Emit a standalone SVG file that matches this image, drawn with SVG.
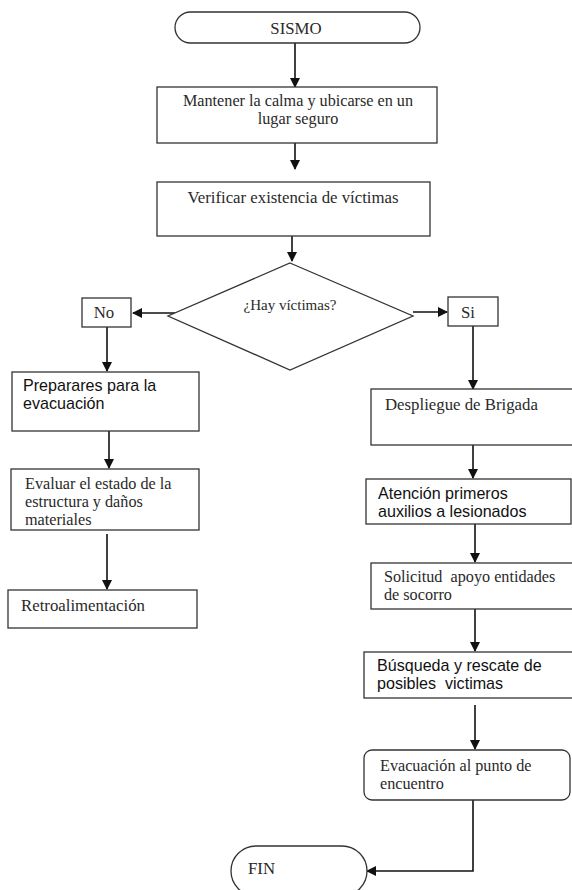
<svg xmlns="http://www.w3.org/2000/svg" width="572" height="890" viewBox="0 0 572 890">
<defs>
<marker id="ah" markerWidth="10" markerHeight="10" refX="9" refY="5" orient="auto" markerUnits="userSpaceOnUse">
<path d="M0,0 L10,5 L0,10 Z" fill="#111"/>
</marker>
<style>
.box{fill:#fff;stroke:#333;stroke-width:1.3}
.ser{font-family:"Liberation Serif","Times New Roman",serif;font-size:16.8px;fill:#2a2a2a}
.ser2{font-family:"Liberation Serif","Times New Roman",serif;font-size:16.2px;fill:#2a2a2a}
.san{font-family:"Liberation Sans",Arial,sans-serif;font-size:16.1px;fill:#111}
.c{text-anchor:middle}
.ln{stroke:#111;stroke-width:1.6;fill:none;marker-end:url(#ah)}
</style>
</defs>
<rect width="572" height="890" fill="#fff"/>
<g id="connectors">
<line class="ln" x1="295" y1="43" x2="295" y2="87"/>
<line class="ln" x1="295" y1="143" x2="295" y2="169"/>
<line class="ln" x1="292" y1="236" x2="292" y2="261"/>
<line class="ln" x1="175" y1="313" x2="133" y2="313"/>
<line class="ln" x1="413" y1="312" x2="447" y2="312"/>
<line class="ln" x1="107" y1="327" x2="107" y2="371"/>
<line class="ln" x1="109" y1="431" x2="109" y2="468"/>
<line class="ln" x1="107" y1="534" x2="107" y2="589"/>
<line class="ln" x1="473" y1="326" x2="473" y2="389"/>
<line class="ln" x1="473" y1="445" x2="473" y2="478"/>
<line class="ln" x1="475" y1="524" x2="475" y2="562"/>
<line class="ln" x1="475" y1="609" x2="475" y2="651"/>
<line class="ln" x1="475" y1="705" x2="475" y2="749"/>
<polyline class="ln" points="473,800 473,871 367,871"/>
</g>
<g id="sismo">
<rect class="box" x="175" y="12" width="245" height="31" rx="15.5"/>
<text class="ser c" x="296" y="34">SISMO</text>
</g>
<g id="mantener">
<rect class="box" x="157" y="87" width="280" height="56"/>
<text class="ser2 c" x="298" y="106">Mantener la calma y ubicarse en un</text>
<text class="ser2 c" x="298" y="124">lugar seguro</text>
</g>
<g id="verificar">
<rect class="box" x="157" y="182" width="273" height="54"/>
<text class="ser c" x="293" y="203">Verificar existencia de víctimas</text>
</g>
<g id="decision">
<polygon class="box" points="290,263 413,316 290,370 168,316"/>
<text class="ser c" x="290" y="310" style="font-size:15px">¿Hay víctimas?</text>
</g>
<g id="no">
<rect class="box" x="82" y="298" width="49" height="29"/>
<text class="ser c" x="104" y="318">No</text>
</g>
<g id="si">
<rect class="box" x="448" y="297" width="50" height="29"/>
<text class="ser c" x="468" y="318">Si</text>
</g>
<g id="preparar">
<rect class="box" x="12" y="372" width="187" height="59"/>
<text class="san" x="23" y="391">Preparares para la</text>
<text class="san" x="23" y="409">evacuación</text>
</g>
<g id="evaluar">
<rect class="box" x="11" y="469" width="188" height="61"/>
<text class="ser2" x="25" y="489">Evaluar el estado de la</text>
<text class="ser2" x="25" y="507">estructura y daños</text>
<text class="ser2" x="25" y="525">materiales</text>
</g>
<g id="retro">
<rect class="box" x="8" y="590" width="189" height="38"/>
<text class="ser" x="21" y="611">Retroalimentación</text>
</g>
<g id="despliegue">
<rect class="box" x="371" y="389" width="205" height="56"/>
<text class="ser" x="385" y="410">Despliegue de Brigada</text>
</g>
<g id="atencion">
<rect class="box" x="366" y="479" width="205" height="45"/>
<text class="san" x="378" y="499">Atención primeros</text>
<text class="san" x="378" y="517">auxilios a lesionados</text>
</g>
<g id="solicitud">
<rect class="box" x="371" y="563" width="205" height="46"/>
<text class="ser2" x="384" y="582" xml:space="preserve">Solicitud  apoyo entidades</text>
<text class="ser2" x="384" y="600">de socorro</text>
</g>
<g id="busqueda">
<rect class="box" x="364" y="652" width="212" height="46"/>
<text class="san" x="377" y="671">Búsqueda y rescate de</text>
<text class="san" x="377" y="689" xml:space="preserve">posibles  victimas</text>
</g>
<g id="evacuacion">
<rect class="box" x="364" y="750" width="206" height="50" rx="8"/>
<text class="ser2" x="380" y="771">Evacuación al punto de</text>
<text class="ser2" x="380" y="789">encuentro</text>
</g>
<g id="fin">
<rect class="box" x="231" y="846" width="136" height="50" rx="25"/>
<text class="ser" x="248" y="874">FIN</text>
</g>
</svg>
